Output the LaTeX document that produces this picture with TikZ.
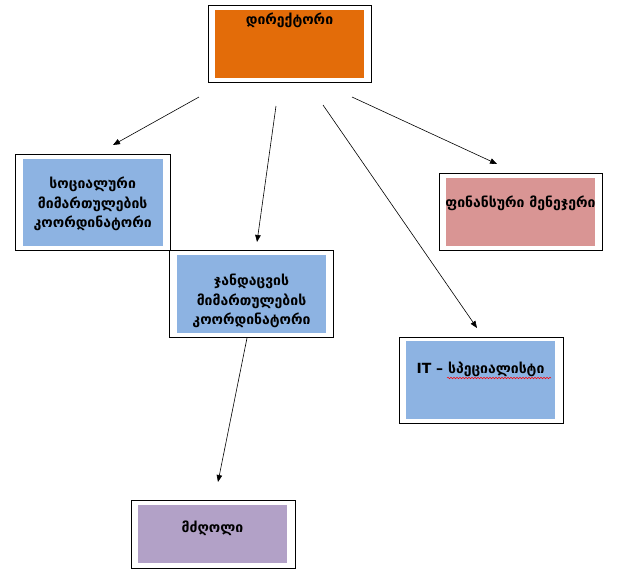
\documentclass[tikz,border=0pt]{standalone}
\usepackage{fontspec}
\setmainfont{DejaVu Sans}
\newfontfamily\geofont{DejaVu Sans}
\usetikzlibrary{arrows.meta,decorations.pathmorphing}
\definecolor{orangeC}{HTML}{E36C09}
\definecolor{blueC}{HTML}{8DB3E2}
\definecolor{pinkC}{HTML}{D99594}
\definecolor{purpleC}{HTML}{B2A1C7}
\tikzset{
  frame/.style={draw=black, line width=1pt, fill=white, inner sep=0pt},
  panel/.style={draw=none, inner sep=0pt},
  label/.style={font=\geofont\bfseries\fontsize{14}{19.5}\selectfont, align=center, inner sep=0pt, text=black},
  arr/.style={-{Triangle[length=7pt,width=5.5pt]}, line width=0.6pt, black},
  squiggle/.style={red, line width=0.5pt, decorate, decoration={snake, amplitude=0.8pt, segment length=3pt}}
}
\begin{document}
\begin{tikzpicture}[x=1pt,y=-1pt]
\useasboundingbox (0,0) rectangle (618,574);
% director
\node[frame, minimum width=163, minimum height=77] (dirF) at (289.5,43.5) {};
\node[panel, fill=orangeC, minimum width=149, minimum height=68] (dirP) at (289.5,44) {};
\node[label] (dirT) at (289.5,20) {დირექტორი};
% social
\node[frame, minimum width=155, minimum height=96] (socF) at (92.5,202) {};
\node[panel, fill=blueC, minimum width=140, minimum height=87] (socP) at (92.7,202.5) {};
\node[label] (socT) at (92.7,204) {სოციალური\\მიმართულების\\კოორდინატორი};
% health
\node[frame, minimum width=164, minimum height=87] (heaF) at (251,293.5) {};
\node[panel, fill=blueC, minimum width=149, minimum height=78] (heaP) at (251.5,294) {};
\node[label] (heaT) at (251.5,301) {ჯანდაცვის\\მიმართულების\\კოორდინატორი};
% finance
\node[frame, minimum width=163, minimum height=77] (finF) at (520.5,211.5) {};
\node[panel, fill=pinkC, minimum width=149, minimum height=68] (finP) at (520.5,212) {};
\node[label] (finT) at (520.5,203) {ფინანსური მენეჯერი};
% IT
\node[frame, minimum width=164, minimum height=86] (itF) at (481,380) {};
\node[panel, fill=blueC, minimum width=149, minimum height=78] (itP) at (480.5,380) {};
\node[label] (itT) at (480.5,369) {IT – სპეციალისტი};
\coordinate (sqA) at (447,378);
\coordinate (sqB) at (551,378);
\draw[squiggle] (sqA) -- (sqB);
% driver
\node[frame, minimum width=164, minimum height=68] (drvF) at (213,534) {};
\node[panel, fill=purpleC, minimum width=149, minimum height=58] (drvP) at (212.5,534) {};
\node[label] (drvT) at (212.5,528) {მძღოლი};
% arrows
\coordinate (a1s) at (199,97);  \coordinate (a1e) at (113,145);
\coordinate (a2s) at (276,106); \coordinate (a2e) at (257,242);
\coordinate (a3s) at (323,105); \coordinate (a3e) at (477,328);
\coordinate (a4s) at (352,97);  \coordinate (a4e) at (497,164);
\coordinate (a5s) at (247,338); \coordinate (a5e) at (218,482);
\draw[arr] (a1s) -- (a1e);
\draw[arr] (a2s) -- (a2e);
\draw[arr] (a3s) -- (a3e);
\draw[arr] (a4s) -- (a4e);
\draw[arr] (a5s) -- (a5e);
\end{tikzpicture}
\end{document}
